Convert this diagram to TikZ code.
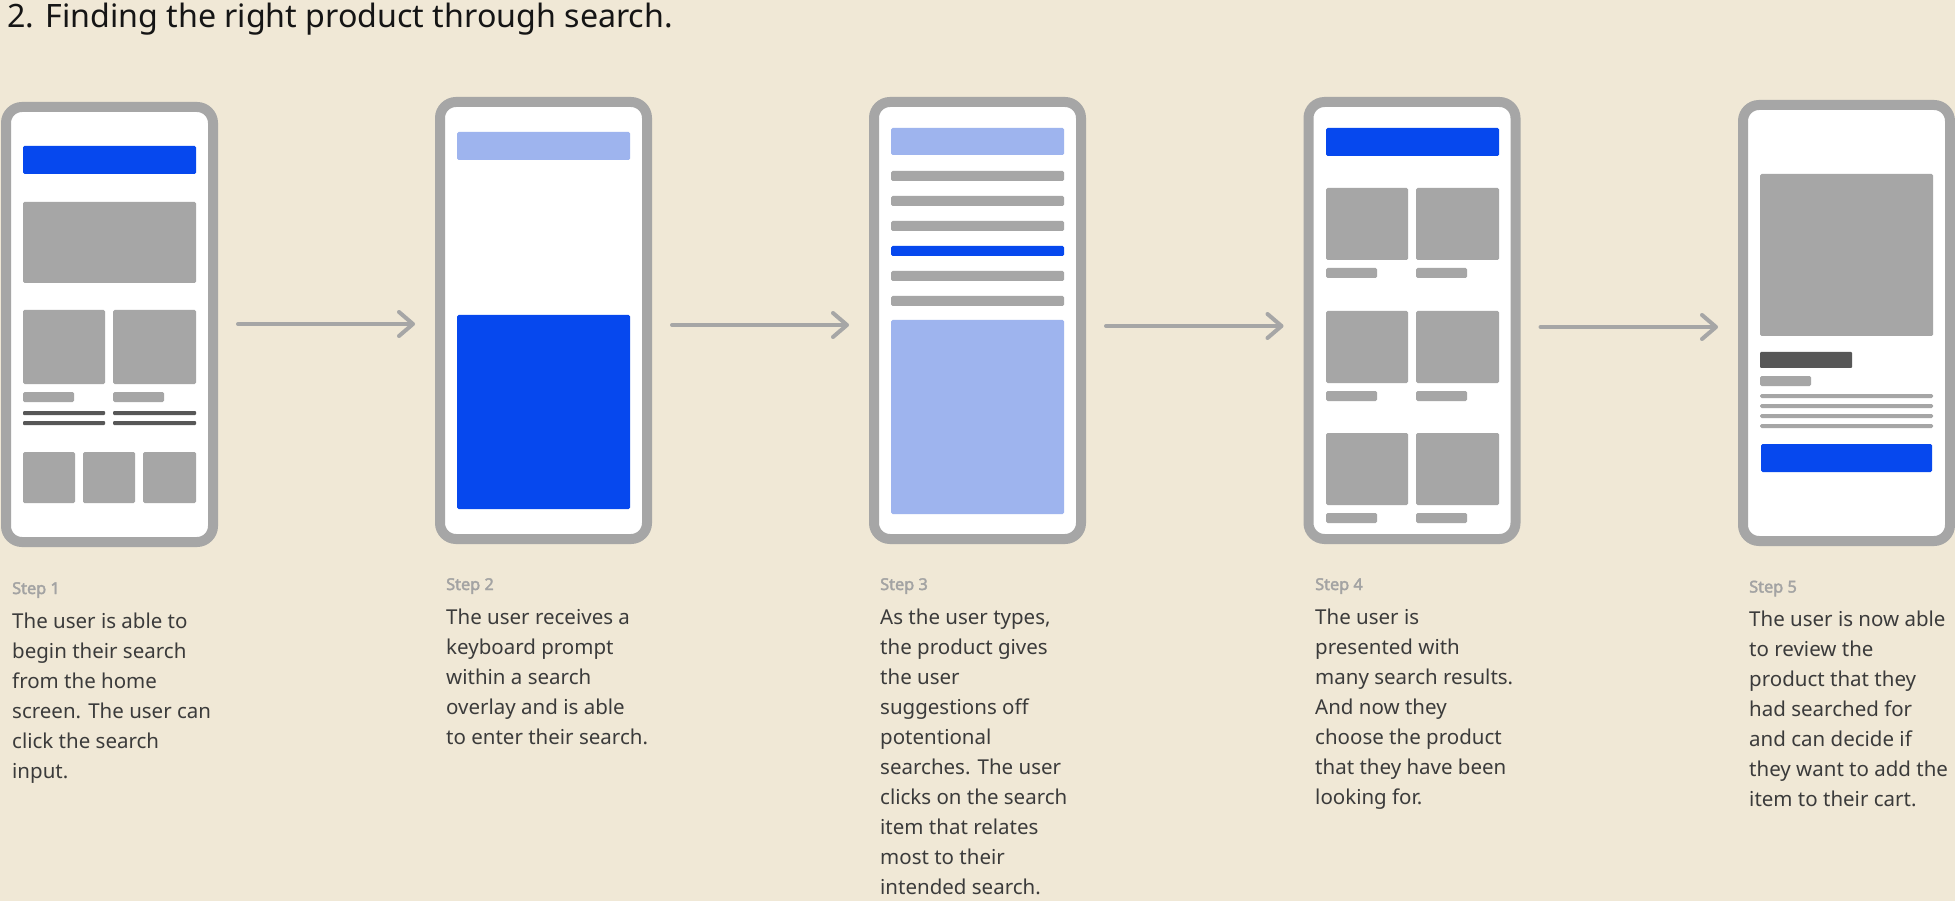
\documentclass[tikz,border=0pt]{standalone}
\usepackage{fontspec}
\setmainfont{Noto Sans}
\newfontfamily\lblfont{Noto Sans}[FakeBold=2.2]
\usetikzlibrary{arrows.meta,calc}
\definecolor{bg}{HTML}{F0E8D6}
\definecolor{frame}{HTML}{A6A6A6}
\definecolor{blockgray}{HTML}{A6A6A6}
\definecolor{uiblue}{HTML}{0648EE}
\definecolor{uilight}{HTML}{9EB4EE}
\definecolor{uidark}{HTML}{575757}
\definecolor{txt}{HTML}{3B3B3B}
\definecolor{steptxt}{HTML}{A3A3A3}
\definecolor{titletxt}{HTML}{151515}
\begin{document}
\begin{tikzpicture}[x=1pt,y=-1pt,
  phone/.style={draw=frame, line width=10pt, fill=white, rounded corners=16pt,
    minimum width=207pt, minimum height=436pt, inner sep=0pt, outer sep=0pt},
  blk/.style={fill=blockgray, rounded corners=1.5pt},
  blu/.style={fill=uiblue, rounded corners=1.5pt},
  lblu/.style={fill=uilight, rounded corners=1.5pt},
  drk/.style={fill=uidark, rounded corners=1pt},
  arr/.style={draw=frame, line width=4pt, line cap=round,
    -{Straight Barb[length=14pt,width=24pt,round]}},
  steplabel/.style={anchor=base west, inner sep=0pt, text=steptxt,
    font=\lblfont\fontsize{16.3}{18}\selectfont},
  desc/.style={anchor=base west, inner sep=0pt, text=txt, align=left,
    font=\fontsize{20.5}{30}\selectfont},
]
\useasboundingbox (0,0) rectangle (1955,901);
\fill[bg] (0,0) rectangle (1955,901);

\node[anchor=base west, inner sep=0pt, text=titletxt,
  font=\fontsize{32.2}{32}\selectfont] (title) at (7,28)
  {2. Finding the right product through search.};

% phones
\node[phone, minimum height=435pt] (p1) at (109.5,324.5) {};
\node[phone, minimum height=437pt] (p2) at (543.5,320.5) {};
\node[phone, minimum height=437pt] (p3) at (977.5,320.5) {};
\node[phone, minimum height=437pt] (p4) at (1412,320.5) {};
\node[phone, minimum height=436pt] (p5) at (1846.5,323) {};

% phone 1 content
\begin{scope}[shift={(1,102)}]
  \fill[blu] (22,44) rectangle (195,72);
  \fill[blk] (22,100) rectangle (195,181);
  \fill[blk] (22,208) rectangle (104,282);
  \fill[blk] (112,208) rectangle (195,282);
  \fill[blk] (22,290) rectangle (73,300);
  \fill[blk] (112,290) rectangle (163,300);
  \fill[drk] (22,309) rectangle (104,313);
  \fill[drk] (112,309) rectangle (195,313);
  \fill[drk] (22,319) rectangle (104,323);
  \fill[drk] (112,319) rectangle (195,323);
  \fill[blk] (22,350) rectangle (74,401);
  \fill[blk] (82,350) rectangle (134,401);
  \fill[blk] (142,350) rectangle (195,401);
\end{scope}

% phone 2 content
\begin{scope}[shift={(435,97)}]
  \fill[lblu] (22,35) rectangle (195,63);
  \fill[blu] (22,218) rectangle (195,412);
\end{scope}

% phone 3 content
\begin{scope}[shift={(869,97)}]
  \fill[lblu] (22,31) rectangle (195,58);
  \foreach \yy in {74,99,124,174,199}
    \fill[blk] (22,\yy) rectangle (195,\yy+10);
  \fill[blu] (22,149) rectangle (195,159);
  \fill[lblu] (22,223) rectangle (195,417);
\end{scope}

% phone 4 content
\begin{scope}[shift={(1304,97)}]
  \fill[blu] (22,31) rectangle (195,59);
  \foreach \yy in {91,214,336} {
    \fill[blk] (22,\yy) rectangle (104,\yy+72);
    \fill[blk] (112,\yy) rectangle (195,\yy+72);
    \fill[blk] (22,\yy+80) rectangle (73,\yy+90);
    \fill[blk] (112,\yy+80) rectangle (163,\yy+90);
  }
\end{scope}

% phone 5 content
\begin{scope}[shift={(1738,100)}]
  \fill[blk] (22,74) rectangle (195,236);
  \fill[drk] (22,252) rectangle (114,268);
  \fill[blk] (22,276) rectangle (73,286);
  \foreach \yy in {294,304,314,324}
    \fill[blk] (22,\yy) rectangle (195,\yy+4);
  \fill[blu] (23,344) rectangle (194,372);
\end{scope}

% arrows
\draw[arr] (p1.east |- 0,324) ++(25,0) -- ($(p2.west |- 0,324)+(-25,0)$);
\draw[arr] (p2.east |- 0,325) ++(25,0) -- ($(p3.west |- 0,325)+(-25,0)$);
\draw[arr] (p3.east |- 0,326) ++(25,0) -- ($(p4.west |- 0,326)+(-25,0)$);
\draw[arr] (p4.east |- 0,327) ++(25,0) -- ($(p5.west |- 0,327)+(-25,0)$);

% texts (base anchor = baseline of last line; line pitch 30)
\node[steplabel] (s1) at (12,594) {Step 1};
\node[desc] (d1) at (12,778) {The user is able to\\begin their search\\from the home\\screen. The user can\\click the search\\input.};
\node[steplabel] (s2) at (446,590) {Step 2};
\node[desc] (d2) at (446,744) {The user receives a\\keyboard prompt\\within a search\\overlay and is able\\to enter their search.};
\node[steplabel] (s3) at (880,590) {Step 3};
\node[desc] (d3) at (880,894) {As the user types,\\the product gives\\the user\\suggestions off\\potentional\\searches. The user\\clicks on the search\\item that relates\\most to their\\intended search.};
\node[steplabel] (s4) at (1315,590) {Step 4};
\node[desc] (d4) at (1315,804) {The user is\\presented with\\many search results.\\And now they\\choose the product\\that they have been\\looking for.};
\node[steplabel] (s5) at (1749,592.5) {Step 5};
\node[desc] (d5) at (1749,806.5) {The user is now able\\to review the\\product that they\\had searched for\\and can decide if\\they want to add the\\item to their cart.};
\end{tikzpicture}
\end{document}
